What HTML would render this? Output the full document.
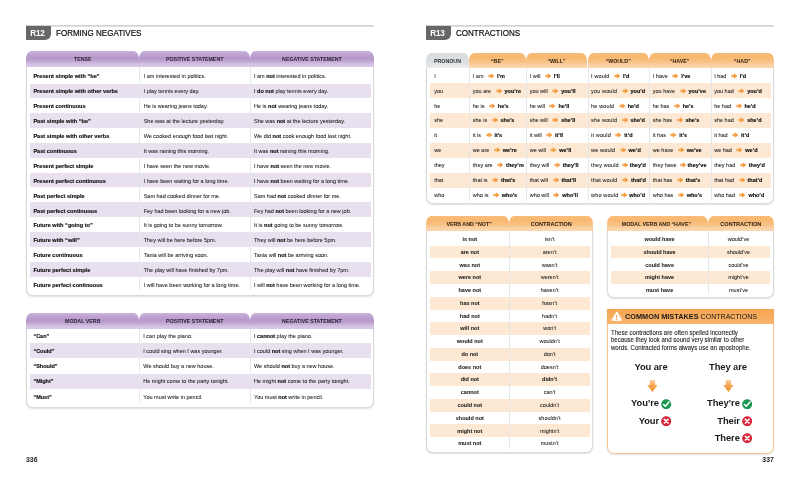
<!DOCTYPE html>
<html lang="en">
<head>
<meta charset="utf-8">
<title>Forming negatives / Contractions</title>
<style>
html,body{margin:0;padding:0;background:#fff;}
body{width:800px;height:478px;position:relative;overflow:hidden;font-family:"Liberation Sans",Arial,sans-serif;color:#222;}
.a{position:absolute;white-space:nowrap;}
.rule{position:absolute;height:1px;background:#bfbfbf;}
.badge{position:absolute;background:#676767;color:#fff;font-weight:bold;font-size:8.2px;border-radius:0 0 6px 0;text-align:center;letter-spacing:-0.2px;text-indent:-2.6px;}
.title{position:absolute;font-size:9.2px;color:#111;white-space:nowrap;transform:scaleX(0.872);transform-origin:0 50%;-webkit-text-stroke:0.22px #111;}
.box{position:absolute;border:1px solid #dadada;border-top:none;border-radius:0 0 7px 7px;background:#fff;box-shadow:0 0.5px 1.5px rgba(0,0,0,0.13);box-sizing:border-box;}
.hd{position:absolute;border-radius:5.5px 5.5px 0 0 / 8px 8px 0 0;text-align:center;font-weight:bold;font-size:5.3px;color:#2a2230;white-space:nowrap;}
.hp{background:linear-gradient(#cab5dc 0%,#c0a5d3 18%,#b697c9 45%,#c2a9d5 66%,#d3c1e1 82%,#d9c9e5 100%);}
.ho{background:linear-gradient(#f8bb78 0%,#f8b870 30%,#f9c388 60%,#fbd3a8 85%,#fbd8b2 100%);color:#2e2216;}
.hg{background:linear-gradient(#d9dcde 0%,#dcdfe1 60%,#eceeef 100%);color:#333;}
.sp{position:absolute;background:#e9e0ef;}
.so{position:absolute;background:#fde9d3;}
.vl{position:absolute;width:1px;background:#e5e8eb;}
.c{position:absolute;white-space:nowrap;font-size:5.5px;color:#222;-webkit-text-stroke:0.06px #222;}
.c b,.cb{color:#0c0c0c;font-weight:bold;-webkit-text-stroke:0.14px #0c0c0c;}
.cc{position:absolute;white-space:nowrap;font-size:5.5px;color:#222;text-align:center;-webkit-text-stroke:0.06px #222;}
.ar{display:inline-block;vertical-align:-0.8px;}
.pg{position:absolute;font-size:6.9px;font-weight:bold;color:#222;}
.big{position:absolute;font-size:9.9px;letter-spacing:-0.1px;font-weight:bold;transform:scaleX(0.95);color:#1a1a1a;white-space:nowrap;}
</style>
</head>
<body>
<svg class="a" style="left:26px;top:24px" width="347.9" height="4" viewBox="0 0 347.9 4"><line x1="0" x2="347.9" y1="1.90" y2="1.90" stroke="#b4b4b4" stroke-width="1"/></svg>
<div class="badge" style="left:26px;top:26px;width:25.4px;height:13.6px;line-height:15.4px">R12</div>
<div class="title" style="left:55.6px;top:27.3px;line-height:13.6px">FORMING NEGATIVES</div>
<div class="box" style="left:26.2px;top:65.3px;width:347.6px;height:230.3px"></div>
<div class="sp" style="left:30.0px;top:83.60px;width:340.8px;height:14.84px"></div>
<div class="sp" style="left:30.0px;top:113.28px;width:340.8px;height:14.84px"></div>
<div class="sp" style="left:30.0px;top:142.96px;width:340.8px;height:14.84px"></div>
<div class="sp" style="left:30.0px;top:172.64px;width:340.8px;height:14.84px"></div>
<div class="sp" style="left:30.0px;top:202.32px;width:340.8px;height:14.84px"></div>
<div class="sp" style="left:30.0px;top:232.00px;width:340.8px;height:14.84px"></div>
<div class="sp" style="left:30.0px;top:261.68px;width:340.8px;height:14.84px"></div>
<div class="vl" style="left:139.0px;top:67.3px;height:223.2px"></div>
<div class="vl" style="left:249.8px;top:67.3px;height:223.2px"></div>
<div class="c" style="left:33.4px;top:71.45px;line-height:10px;"><b style="font-size:5.6px">Present simple with “be”</b></div>
<div class="c" style="left:143.7px;top:71.45px;line-height:10px;">I am interested in politics.</div>
<div class="c" style="left:254.0px;top:71.45px;line-height:10px;">I am <b>not</b> interested in politics.</div>
<div class="c" style="left:33.4px;top:86.35px;line-height:10px;"><b style="font-size:5.6px">Present simple with other verbs</b></div>
<div class="c" style="left:143.7px;top:86.35px;line-height:10px;">I play tennis every day.</div>
<div class="c" style="left:254.0px;top:86.35px;line-height:10px;">I <b>do not</b> play tennis every day.</div>
<div class="c" style="left:33.4px;top:101.25px;line-height:10px;"><b style="font-size:5.6px">Present continuous</b></div>
<div class="c" style="left:143.7px;top:101.25px;line-height:10px;">He is wearing jeans today.</div>
<div class="c" style="left:254.0px;top:101.25px;line-height:10px;">He is <b>not</b> wearing jeans today.</div>
<div class="c" style="left:33.4px;top:116.15px;line-height:10px;"><b style="font-size:5.6px">Past simple with “be”</b></div>
<div class="c" style="left:143.7px;top:116.15px;line-height:10px;">She was at the lecture yesterday.</div>
<div class="c" style="left:254.0px;top:116.15px;line-height:10px;">She was <b>not</b> at the lecture yesterday.</div>
<div class="c" style="left:33.4px;top:131.05px;line-height:10px;"><b style="font-size:5.6px">Past simple with other verbs</b></div>
<div class="c" style="left:143.7px;top:131.05px;line-height:10px;">We cooked enough food last night.</div>
<div class="c" style="left:254.0px;top:131.05px;line-height:10px;">We did <b>not</b> cook enough food last night.</div>
<div class="c" style="left:33.4px;top:145.95px;line-height:10px;"><b style="font-size:5.6px">Past continuous</b></div>
<div class="c" style="left:143.7px;top:145.95px;line-height:10px;">It was raining this morning.</div>
<div class="c" style="left:254.0px;top:145.95px;line-height:10px;">It was <b>not</b> raining this morning.</div>
<div class="c" style="left:33.4px;top:160.85px;line-height:10px;"><b style="font-size:5.6px">Present perfect simple</b></div>
<div class="c" style="left:143.7px;top:160.85px;line-height:10px;">I have seen the new movie.</div>
<div class="c" style="left:254.0px;top:160.85px;line-height:10px;">I have <b>not</b> seen the new movie.</div>
<div class="c" style="left:33.4px;top:175.75px;line-height:10px;"><b style="font-size:5.6px">Present perfect continuous</b></div>
<div class="c" style="left:143.7px;top:175.75px;line-height:10px;">I have been waiting for a long time.</div>
<div class="c" style="left:254.0px;top:175.75px;line-height:10px;">I have <b>not</b> been waiting for a long time.</div>
<div class="c" style="left:33.4px;top:190.65px;line-height:10px;"><b style="font-size:5.6px">Past perfect simple</b></div>
<div class="c" style="left:143.7px;top:190.65px;line-height:10px;">Sam had cooked dinner for me.</div>
<div class="c" style="left:254.0px;top:190.65px;line-height:10px;">Sam had <b>not</b> cooked dinner for me.</div>
<div class="c" style="left:33.4px;top:205.55px;line-height:10px;"><b style="font-size:5.6px">Past perfect continuous</b></div>
<div class="c" style="left:143.7px;top:205.55px;line-height:10px;">Fey had been looking for a new job.</div>
<div class="c" style="left:254.0px;top:205.55px;line-height:10px;">Fey had <b>not</b> been looking for a new job.</div>
<div class="c" style="left:33.4px;top:220.45px;line-height:10px;"><b style="font-size:5.6px">Future with “going to”</b></div>
<div class="c" style="left:143.7px;top:220.45px;line-height:10px;">It is going to be sunny tomorrow.</div>
<div class="c" style="left:254.0px;top:220.45px;line-height:10px;">It is <b>not</b> going to be sunny tomorrow.</div>
<div class="c" style="left:33.4px;top:235.35px;line-height:10px;"><b style="font-size:5.6px">Future with “will”</b></div>
<div class="c" style="left:143.7px;top:235.35px;line-height:10px;">They will be here before 5pm.</div>
<div class="c" style="left:254.0px;top:235.35px;line-height:10px;">They will <b>not</b> be here before 5pm.</div>
<div class="c" style="left:33.4px;top:250.25px;line-height:10px;"><b style="font-size:5.6px">Future continuous</b></div>
<div class="c" style="left:143.7px;top:250.25px;line-height:10px;">Tania will be arriving soon.</div>
<div class="c" style="left:254.0px;top:250.25px;line-height:10px;">Tania will <b>not</b> be arriving soon.</div>
<div class="c" style="left:33.4px;top:265.15px;line-height:10px;"><b style="font-size:5.6px">Future perfect simple</b></div>
<div class="c" style="left:143.7px;top:265.15px;line-height:10px;">The play will have finished by 7pm.</div>
<div class="c" style="left:254.0px;top:265.15px;line-height:10px;">The play will <b>not</b> have finished by 7pm.</div>
<div class="c" style="left:33.4px;top:280.05px;line-height:10px;"><b style="font-size:5.6px">Future perfect continuous</b></div>
<div class="c" style="left:143.7px;top:280.05px;line-height:10px;">I will have been working for a long time.</div>
<div class="c" style="left:254.0px;top:280.05px;line-height:10px;">I will <b>not</b> have been working for a long time.</div>
<div class="hd hp" style="left:26.2px;top:51.3px;width:113.1px;height:16.0px;line-height:16.6px;">TENSE</div>
<div class="hd hp" style="left:139.3px;top:51.3px;width:110.8px;height:16.0px;line-height:16.6px;">POSITIVE STATEMENT</div>
<div class="hd hp" style="left:250.1px;top:51.3px;width:123.7px;height:16.0px;line-height:16.6px;">NEGATIVE STATEMENT</div>
<div class="box" style="left:26.2px;top:326.6px;width:347.6px;height:81.0px"></div>
<div class="sp" style="left:30.0px;top:343.25px;width:340.8px;height:15.15px"></div>
<div class="sp" style="left:30.0px;top:373.55px;width:340.8px;height:15.15px"></div>
<div class="vl" style="left:139.0px;top:328.6px;height:74.4px"></div>
<div class="vl" style="left:249.8px;top:328.6px;height:74.4px"></div>
<div class="c" style="left:33.4px;top:330.50px;line-height:10px;"><b>“Can”</b></div>
<div class="c" style="left:143.3px;top:330.50px;line-height:10px;">I can play the piano.</div>
<div class="c" style="left:254.0px;top:330.50px;line-height:10px;">I <b>cannot</b> play the piano.</div>
<div class="c" style="left:33.4px;top:345.78px;line-height:10px;"><b>“Could”</b></div>
<div class="c" style="left:143.3px;top:345.78px;line-height:10px;">I could sing when I was younger.</div>
<div class="c" style="left:254.0px;top:345.78px;line-height:10px;">I could <b>not</b> sing when I was younger.</div>
<div class="c" style="left:33.4px;top:361.06px;line-height:10px;"><b>“Should”</b></div>
<div class="c" style="left:143.3px;top:361.06px;line-height:10px;">We should buy a new house.</div>
<div class="c" style="left:254.0px;top:361.06px;line-height:10px;">We should <b>not</b> buy a new house.</div>
<div class="c" style="left:33.4px;top:376.34px;line-height:10px;"><b>“Might”</b></div>
<div class="c" style="left:143.3px;top:376.34px;line-height:10px;">He might come to the party tonight.</div>
<div class="c" style="left:254.0px;top:376.34px;line-height:10px;">He might <b>not</b> come to the party tonight.</div>
<div class="c" style="left:33.4px;top:391.62px;line-height:10px;"><b>“Must”</b></div>
<div class="c" style="left:143.3px;top:391.62px;line-height:10px;">You must write in pencil.</div>
<div class="c" style="left:254.0px;top:391.62px;line-height:10px;">You must <b>not</b> write in pencil.</div>
<div class="hd hp" style="left:26.2px;top:313.0px;width:113.1px;height:15.6px;line-height:16.2px;">MODAL VERB</div>
<div class="hd hp" style="left:139.3px;top:313.0px;width:110.8px;height:15.6px;line-height:16.2px;">POSITIVE STATEMENT</div>
<div class="hd hp" style="left:250.1px;top:313.0px;width:123.7px;height:15.6px;line-height:16.2px;">NEGATIVE STATEMENT</div>
<div class="pg" style="left:26px;top:454.5px;line-height:10px">336</div>
<svg class="a" style="left:426px;top:24px" width="347.9" height="4" viewBox="0 0 347.9 4"><line x1="0" x2="347.9" y1="1.90" y2="1.90" stroke="#b4b4b4" stroke-width="1"/></svg>
<div class="badge" style="left:426px;top:26px;width:25.4px;height:13.6px;line-height:15.4px">R13</div>
<div class="title" style="left:455.6px;top:27.3px;line-height:13.6px">CONTRACTIONS</div>
<div class="box" style="left:426.4px;top:66.0px;width:347.5px;height:137.8px"></div>
<div class="so" style="left:430.2px;top:83.12px;width:340.5px;height:14.92px"></div>
<div class="so" style="left:430.2px;top:112.96px;width:340.5px;height:14.92px"></div>
<div class="so" style="left:430.2px;top:142.80px;width:340.5px;height:14.92px"></div>
<div class="so" style="left:430.2px;top:172.64px;width:340.5px;height:14.92px"></div>
<div class="vl" style="left:469.1px;top:68.0px;height:132.5px"></div>
<div class="vl" style="left:525.7px;top:68.0px;height:132.5px"></div>
<div class="vl" style="left:587.6px;top:68.0px;height:132.5px"></div>
<div class="vl" style="left:648.9px;top:68.0px;height:132.5px"></div>
<div class="vl" style="left:710.7px;top:68.0px;height:132.5px"></div>
<div class="c" style="left:434.2px;top:71.00px;line-height:10px;">I</div>
<div class="c" style="left:472.8px;top:71.00px;line-height:10px;">I am<span style="display:inline-block;width:4.5px"></span><svg class="ar" width="6.4" height="5.9" viewBox="0 0 60 54"><defs><linearGradient id="ag" x1="0" x2="1" y1="0" y2="0"><stop offset="0" stop-color="#f9b56d"/><stop offset="1" stop-color="#f08a24"/></linearGradient></defs><path d="M2 15 L27 15 L27 1 L59 27 L27 53 L27 39 L2 39 Z" fill="url(#ag)"/></svg><span style="display:inline-block;width:2.5px"></span><b>I’m</b></div>
<div class="c" style="left:529.7px;top:71.00px;line-height:10px;">I will<span style="display:inline-block;width:4.5px"></span><svg class="ar" width="6.4" height="5.9" viewBox="0 0 60 54"><path d="M2 15 L27 15 L27 1 L59 27 L27 53 L27 39 L2 39 Z" fill="url(#ag)"/></svg><span style="display:inline-block;width:2.5px"></span><b>I’ll</b></div>
<div class="c" style="left:591.1px;top:71.00px;line-height:10px;"><span style="letter-spacing:0.14px">I would</span><span style="display:inline-block;width:4.5px"></span><svg class="ar" width="6.4" height="5.9" viewBox="0 0 60 54"><path d="M2 15 L27 15 L27 1 L59 27 L27 53 L27 39 L2 39 Z" fill="url(#ag)"/></svg><span style="display:inline-block;width:2.5px"></span><b>I’d</b></div>
<div class="c" style="left:652.8px;top:71.00px;line-height:10px;">I have<span style="display:inline-block;width:4.5px"></span><svg class="ar" width="6.4" height="5.9" viewBox="0 0 60 54"><path d="M2 15 L27 15 L27 1 L59 27 L27 53 L27 39 L2 39 Z" fill="url(#ag)"/></svg><span style="display:inline-block;width:2.5px"></span><b>I’ve</b></div>
<div class="c" style="left:714.2px;top:71.00px;line-height:10px;">I had<span style="display:inline-block;width:4.5px"></span><svg class="ar" width="6.4" height="5.9" viewBox="0 0 60 54"><path d="M2 15 L27 15 L27 1 L59 27 L27 53 L27 39 L2 39 Z" fill="url(#ag)"/></svg><span style="display:inline-block;width:2.5px"></span><b>I’d</b></div>
<div class="c" style="left:434.2px;top:86.00px;line-height:10px;">you</div>
<div class="c" style="left:472.8px;top:86.00px;line-height:10px;">you are<span style="display:inline-block;width:4.5px"></span><svg class="ar" width="6.4" height="5.9" viewBox="0 0 60 54"><path d="M2 15 L27 15 L27 1 L59 27 L27 53 L27 39 L2 39 Z" fill="url(#ag)"/></svg><span style="display:inline-block;width:2.5px"></span><b>you’re</b></div>
<div class="c" style="left:529.7px;top:86.00px;line-height:10px;">you will<span style="display:inline-block;width:4.5px"></span><svg class="ar" width="6.4" height="5.9" viewBox="0 0 60 54"><path d="M2 15 L27 15 L27 1 L59 27 L27 53 L27 39 L2 39 Z" fill="url(#ag)"/></svg><span style="display:inline-block;width:2.5px"></span><b>you’ll</b></div>
<div class="c" style="left:591.1px;top:86.00px;line-height:10px;"><span style="letter-spacing:0.14px">you would</span><span style="display:inline-block;width:4.5px"></span><svg class="ar" width="6.4" height="5.9" viewBox="0 0 60 54"><path d="M2 15 L27 15 L27 1 L59 27 L27 53 L27 39 L2 39 Z" fill="url(#ag)"/></svg><span style="display:inline-block;width:2.5px"></span><b>you’d</b></div>
<div class="c" style="left:652.8px;top:86.00px;line-height:10px;">you have<span style="display:inline-block;width:4.5px"></span><svg class="ar" width="6.4" height="5.9" viewBox="0 0 60 54"><path d="M2 15 L27 15 L27 1 L59 27 L27 53 L27 39 L2 39 Z" fill="url(#ag)"/></svg><span style="display:inline-block;width:2.5px"></span><b>you’ve</b></div>
<div class="c" style="left:714.2px;top:86.00px;line-height:10px;">you had<span style="display:inline-block;width:4.5px"></span><svg class="ar" width="6.4" height="5.9" viewBox="0 0 60 54"><path d="M2 15 L27 15 L27 1 L59 27 L27 53 L27 39 L2 39 Z" fill="url(#ag)"/></svg><span style="display:inline-block;width:2.5px"></span><b>you’d</b></div>
<div class="c" style="left:434.2px;top:101.00px;line-height:10px;">he</div>
<div class="c" style="left:472.8px;top:101.00px;line-height:10px;">he is<span style="display:inline-block;width:4.5px"></span><svg class="ar" width="6.4" height="5.9" viewBox="0 0 60 54"><path d="M2 15 L27 15 L27 1 L59 27 L27 53 L27 39 L2 39 Z" fill="url(#ag)"/></svg><span style="display:inline-block;width:2.5px"></span><b>he’s</b></div>
<div class="c" style="left:529.7px;top:101.00px;line-height:10px;">he will<span style="display:inline-block;width:4.5px"></span><svg class="ar" width="6.4" height="5.9" viewBox="0 0 60 54"><path d="M2 15 L27 15 L27 1 L59 27 L27 53 L27 39 L2 39 Z" fill="url(#ag)"/></svg><span style="display:inline-block;width:2.5px"></span><b>he’ll</b></div>
<div class="c" style="left:591.1px;top:101.00px;line-height:10px;"><span style="letter-spacing:0.14px">he would</span><span style="display:inline-block;width:4.5px"></span><svg class="ar" width="6.4" height="5.9" viewBox="0 0 60 54"><path d="M2 15 L27 15 L27 1 L59 27 L27 53 L27 39 L2 39 Z" fill="url(#ag)"/></svg><span style="display:inline-block;width:2.5px"></span><b>he’d</b></div>
<div class="c" style="left:652.8px;top:101.00px;line-height:10px;">he has<span style="display:inline-block;width:4.5px"></span><svg class="ar" width="6.4" height="5.9" viewBox="0 0 60 54"><path d="M2 15 L27 15 L27 1 L59 27 L27 53 L27 39 L2 39 Z" fill="url(#ag)"/></svg><span style="display:inline-block;width:2.5px"></span><b>he’s</b></div>
<div class="c" style="left:714.2px;top:101.00px;line-height:10px;">he had<span style="display:inline-block;width:4.5px"></span><svg class="ar" width="6.4" height="5.9" viewBox="0 0 60 54"><path d="M2 15 L27 15 L27 1 L59 27 L27 53 L27 39 L2 39 Z" fill="url(#ag)"/></svg><span style="display:inline-block;width:2.5px"></span><b>he’d</b></div>
<div class="c" style="left:434.2px;top:115.00px;line-height:10px;">she</div>
<div class="c" style="left:472.8px;top:115.00px;line-height:10px;">she is<span style="display:inline-block;width:4.5px"></span><svg class="ar" width="6.4" height="5.9" viewBox="0 0 60 54"><path d="M2 15 L27 15 L27 1 L59 27 L27 53 L27 39 L2 39 Z" fill="url(#ag)"/></svg><span style="display:inline-block;width:2.5px"></span><b>she’s</b></div>
<div class="c" style="left:529.7px;top:115.00px;line-height:10px;">she will<span style="display:inline-block;width:4.5px"></span><svg class="ar" width="6.4" height="5.9" viewBox="0 0 60 54"><path d="M2 15 L27 15 L27 1 L59 27 L27 53 L27 39 L2 39 Z" fill="url(#ag)"/></svg><span style="display:inline-block;width:2.5px"></span><b>she’ll</b></div>
<div class="c" style="left:591.1px;top:115.00px;line-height:10px;"><span style="letter-spacing:0.14px">she would</span><span style="display:inline-block;width:4.5px"></span><svg class="ar" width="6.4" height="5.9" viewBox="0 0 60 54"><path d="M2 15 L27 15 L27 1 L59 27 L27 53 L27 39 L2 39 Z" fill="url(#ag)"/></svg><span style="display:inline-block;width:2.5px"></span><b>she’d</b></div>
<div class="c" style="left:652.8px;top:115.00px;line-height:10px;">she has<span style="display:inline-block;width:4.5px"></span><svg class="ar" width="6.4" height="5.9" viewBox="0 0 60 54"><path d="M2 15 L27 15 L27 1 L59 27 L27 53 L27 39 L2 39 Z" fill="url(#ag)"/></svg><span style="display:inline-block;width:2.5px"></span><b>she’s</b></div>
<div class="c" style="left:714.2px;top:115.00px;line-height:10px;">she had<span style="display:inline-block;width:4.5px"></span><svg class="ar" width="6.4" height="5.9" viewBox="0 0 60 54"><path d="M2 15 L27 15 L27 1 L59 27 L27 53 L27 39 L2 39 Z" fill="url(#ag)"/></svg><span style="display:inline-block;width:2.5px"></span><b>she’d</b></div>
<div class="c" style="left:434.2px;top:130.00px;line-height:10px;">it</div>
<div class="c" style="left:472.8px;top:130.00px;line-height:10px;">it is<span style="display:inline-block;width:4.5px"></span><svg class="ar" width="6.4" height="5.9" viewBox="0 0 60 54"><path d="M2 15 L27 15 L27 1 L59 27 L27 53 L27 39 L2 39 Z" fill="url(#ag)"/></svg><span style="display:inline-block;width:2.5px"></span><b>it’s</b></div>
<div class="c" style="left:529.7px;top:130.00px;line-height:10px;">it will<span style="display:inline-block;width:4.5px"></span><svg class="ar" width="6.4" height="5.9" viewBox="0 0 60 54"><path d="M2 15 L27 15 L27 1 L59 27 L27 53 L27 39 L2 39 Z" fill="url(#ag)"/></svg><span style="display:inline-block;width:2.5px"></span><b>it’ll</b></div>
<div class="c" style="left:591.1px;top:130.00px;line-height:10px;"><span style="letter-spacing:0.14px">it would</span><span style="display:inline-block;width:4.5px"></span><svg class="ar" width="6.4" height="5.9" viewBox="0 0 60 54"><path d="M2 15 L27 15 L27 1 L59 27 L27 53 L27 39 L2 39 Z" fill="url(#ag)"/></svg><span style="display:inline-block;width:2.5px"></span><b>it’d</b></div>
<div class="c" style="left:652.8px;top:130.00px;line-height:10px;">it has<span style="display:inline-block;width:4.5px"></span><svg class="ar" width="6.4" height="5.9" viewBox="0 0 60 54"><path d="M2 15 L27 15 L27 1 L59 27 L27 53 L27 39 L2 39 Z" fill="url(#ag)"/></svg><span style="display:inline-block;width:2.5px"></span><b>it’s</b></div>
<div class="c" style="left:714.2px;top:130.00px;line-height:10px;">it had<span style="display:inline-block;width:4.5px"></span><svg class="ar" width="6.4" height="5.9" viewBox="0 0 60 54"><path d="M2 15 L27 15 L27 1 L59 27 L27 53 L27 39 L2 39 Z" fill="url(#ag)"/></svg><span style="display:inline-block;width:2.5px"></span><b>it’d</b></div>
<div class="c" style="left:434.2px;top:145.00px;line-height:10px;">we</div>
<div class="c" style="left:472.8px;top:145.00px;line-height:10px;">we are<span style="display:inline-block;width:4.5px"></span><svg class="ar" width="6.4" height="5.9" viewBox="0 0 60 54"><path d="M2 15 L27 15 L27 1 L59 27 L27 53 L27 39 L2 39 Z" fill="url(#ag)"/></svg><span style="display:inline-block;width:2.5px"></span><b>we’re</b></div>
<div class="c" style="left:529.7px;top:145.00px;line-height:10px;">we will<span style="display:inline-block;width:4.5px"></span><svg class="ar" width="6.4" height="5.9" viewBox="0 0 60 54"><path d="M2 15 L27 15 L27 1 L59 27 L27 53 L27 39 L2 39 Z" fill="url(#ag)"/></svg><span style="display:inline-block;width:2.5px"></span><b>we’ll</b></div>
<div class="c" style="left:591.1px;top:145.00px;line-height:10px;"><span style="letter-spacing:0.14px">we would</span><span style="display:inline-block;width:4.5px"></span><svg class="ar" width="6.4" height="5.9" viewBox="0 0 60 54"><path d="M2 15 L27 15 L27 1 L59 27 L27 53 L27 39 L2 39 Z" fill="url(#ag)"/></svg><span style="display:inline-block;width:2.5px"></span><b>we’d</b></div>
<div class="c" style="left:652.8px;top:145.00px;line-height:10px;">we have<span style="display:inline-block;width:4.5px"></span><svg class="ar" width="6.4" height="5.9" viewBox="0 0 60 54"><path d="M2 15 L27 15 L27 1 L59 27 L27 53 L27 39 L2 39 Z" fill="url(#ag)"/></svg><span style="display:inline-block;width:2.5px"></span><b>we’ve</b></div>
<div class="c" style="left:714.2px;top:145.00px;line-height:10px;">we had<span style="display:inline-block;width:4.5px"></span><svg class="ar" width="6.4" height="5.9" viewBox="0 0 60 54"><path d="M2 15 L27 15 L27 1 L59 27 L27 53 L27 39 L2 39 Z" fill="url(#ag)"/></svg><span style="display:inline-block;width:2.5px"></span><b>we’d</b></div>
<div class="c" style="left:434.2px;top:160.00px;line-height:10px;">they</div>
<div class="c" style="left:472.8px;top:160.00px;line-height:10px;">they are<span style="display:inline-block;width:4.5px"></span><svg class="ar" width="6.4" height="5.9" viewBox="0 0 60 54"><path d="M2 15 L27 15 L27 1 L59 27 L27 53 L27 39 L2 39 Z" fill="url(#ag)"/></svg><span style="display:inline-block;width:2.5px"></span><b>they’re</b></div>
<div class="c" style="left:529.7px;top:160.00px;line-height:10px;">they will<span style="display:inline-block;width:4.5px"></span><svg class="ar" width="6.4" height="5.9" viewBox="0 0 60 54"><path d="M2 15 L27 15 L27 1 L59 27 L27 53 L27 39 L2 39 Z" fill="url(#ag)"/></svg><span style="display:inline-block;width:2.5px"></span><b>they’ll</b></div>
<div class="c" style="left:591.1px;top:160.00px;line-height:10px;"><span style="letter-spacing:0.14px">they would</span><span style="display:inline-block;width:3.2px"></span><svg class="ar" width="6.4" height="5.9" viewBox="0 0 60 54"><path d="M2 15 L27 15 L27 1 L59 27 L27 53 L27 39 L2 39 Z" fill="url(#ag)"/></svg><span style="display:inline-block;width:1.3px"></span><b>they’d</b></div>
<div class="c" style="left:652.8px;top:160.00px;line-height:10px;">they have<span style="display:inline-block;width:3.2px"></span><svg class="ar" width="6.4" height="5.9" viewBox="0 0 60 54"><path d="M2 15 L27 15 L27 1 L59 27 L27 53 L27 39 L2 39 Z" fill="url(#ag)"/></svg><span style="display:inline-block;width:1.3px"></span><b>they’ve</b></div>
<div class="c" style="left:714.2px;top:160.00px;line-height:10px;">they had<span style="display:inline-block;width:4.5px"></span><svg class="ar" width="6.4" height="5.9" viewBox="0 0 60 54"><path d="M2 15 L27 15 L27 1 L59 27 L27 53 L27 39 L2 39 Z" fill="url(#ag)"/></svg><span style="display:inline-block;width:2.5px"></span><b>they’d</b></div>
<div class="c" style="left:434.2px;top:175.00px;line-height:10px;">that</div>
<div class="c" style="left:472.8px;top:175.00px;line-height:10px;">that is<span style="display:inline-block;width:4.5px"></span><svg class="ar" width="6.4" height="5.9" viewBox="0 0 60 54"><path d="M2 15 L27 15 L27 1 L59 27 L27 53 L27 39 L2 39 Z" fill="url(#ag)"/></svg><span style="display:inline-block;width:2.5px"></span><b>that’s</b></div>
<div class="c" style="left:529.7px;top:175.00px;line-height:10px;">that will<span style="display:inline-block;width:4.5px"></span><svg class="ar" width="6.4" height="5.9" viewBox="0 0 60 54"><path d="M2 15 L27 15 L27 1 L59 27 L27 53 L27 39 L2 39 Z" fill="url(#ag)"/></svg><span style="display:inline-block;width:2.5px"></span><b>that’ll</b></div>
<div class="c" style="left:591.1px;top:175.00px;line-height:10px;"><span style="letter-spacing:0.14px">that would</span><span style="display:inline-block;width:4.5px"></span><svg class="ar" width="6.4" height="5.9" viewBox="0 0 60 54"><path d="M2 15 L27 15 L27 1 L59 27 L27 53 L27 39 L2 39 Z" fill="url(#ag)"/></svg><span style="display:inline-block;width:2.5px"></span><b>that’d</b></div>
<div class="c" style="left:652.8px;top:175.00px;line-height:10px;">that has<span style="display:inline-block;width:4.5px"></span><svg class="ar" width="6.4" height="5.9" viewBox="0 0 60 54"><path d="M2 15 L27 15 L27 1 L59 27 L27 53 L27 39 L2 39 Z" fill="url(#ag)"/></svg><span style="display:inline-block;width:2.5px"></span><b>that’s</b></div>
<div class="c" style="left:714.2px;top:175.00px;line-height:10px;">that had<span style="display:inline-block;width:4.5px"></span><svg class="ar" width="6.4" height="5.9" viewBox="0 0 60 54"><path d="M2 15 L27 15 L27 1 L59 27 L27 53 L27 39 L2 39 Z" fill="url(#ag)"/></svg><span style="display:inline-block;width:2.5px"></span><b>that’d</b></div>
<div class="c" style="left:434.2px;top:190.00px;line-height:10px;">who</div>
<div class="c" style="left:472.8px;top:190.00px;line-height:10px;">who is<span style="display:inline-block;width:4.5px"></span><svg class="ar" width="6.4" height="5.9" viewBox="0 0 60 54"><path d="M2 15 L27 15 L27 1 L59 27 L27 53 L27 39 L2 39 Z" fill="url(#ag)"/></svg><span style="display:inline-block;width:2.5px"></span><b>who’s</b></div>
<div class="c" style="left:529.7px;top:190.00px;line-height:10px;">who will<span style="display:inline-block;width:4.5px"></span><svg class="ar" width="6.4" height="5.9" viewBox="0 0 60 54"><path d="M2 15 L27 15 L27 1 L59 27 L27 53 L27 39 L2 39 Z" fill="url(#ag)"/></svg><span style="display:inline-block;width:2.5px"></span><b>who’ll</b></div>
<div class="c" style="left:591.1px;top:190.00px;line-height:10px;"><span style="letter-spacing:0.14px">who would</span><span style="display:inline-block;width:2.9px"></span><svg class="ar" width="6.4" height="5.9" viewBox="0 0 60 54"><path d="M2 15 L27 15 L27 1 L59 27 L27 53 L27 39 L2 39 Z" fill="url(#ag)"/></svg><span style="display:inline-block;width:1.6px"></span><b>who’d</b></div>
<div class="c" style="left:652.8px;top:190.00px;line-height:10px;">who has<span style="display:inline-block;width:4.5px"></span><svg class="ar" width="6.4" height="5.9" viewBox="0 0 60 54"><path d="M2 15 L27 15 L27 1 L59 27 L27 53 L27 39 L2 39 Z" fill="url(#ag)"/></svg><span style="display:inline-block;width:2.5px"></span><b>who’s</b></div>
<div class="c" style="left:714.2px;top:190.00px;line-height:10px;">who had<span style="display:inline-block;width:4.5px"></span><svg class="ar" width="6.4" height="5.9" viewBox="0 0 60 54"><path d="M2 15 L27 15 L27 1 L59 27 L27 53 L27 39 L2 39 Z" fill="url(#ag)"/></svg><span style="display:inline-block;width:2.5px"></span><b>who’d</b></div>
<div class="hd hg" style="left:426.4px;top:52.9px;width:42.2px;height:15.1px;line-height:16.7px;text-indent:0.0px;">PRONOUN</div>
<div class="hd ho" style="left:469.0px;top:52.9px;width:56.6px;height:15.3px;line-height:16.9px;">“BE”</div>
<div class="hd ho" style="left:525.6px;top:52.9px;width:61.9px;height:15.3px;line-height:16.9px;">“WILL”</div>
<div class="hd ho" style="left:587.5px;top:52.9px;width:61.3px;height:15.3px;line-height:16.9px;">“WOULD”</div>
<div class="hd ho" style="left:648.8px;top:52.9px;width:61.8px;height:15.3px;line-height:16.9px;">“HAVE”</div>
<div class="hd ho" style="left:710.6px;top:52.9px;width:63.3px;height:15.3px;line-height:16.9px;">“HAD”</div>
<div class="box" style="left:426.4px;top:228.9px;width:167.0px;height:224.3px"></div>
<div class="so" style="left:430.2px;top:245.67px;width:159.4px;height:12.77px"></div>
<div class="so" style="left:430.2px;top:271.21px;width:159.4px;height:12.77px"></div>
<div class="so" style="left:430.2px;top:296.75px;width:159.4px;height:12.77px"></div>
<div class="so" style="left:430.2px;top:322.29px;width:159.4px;height:12.77px"></div>
<div class="so" style="left:430.2px;top:347.83px;width:159.4px;height:12.77px"></div>
<div class="so" style="left:430.2px;top:373.37px;width:159.4px;height:12.77px"></div>
<div class="so" style="left:430.2px;top:398.91px;width:159.4px;height:12.77px"></div>
<div class="so" style="left:430.2px;top:424.45px;width:159.4px;height:12.77px"></div>
<div class="vl" style="left:508.9px;top:230.9px;height:218.6px"></div>
<div class="cc cb" style="left:429.8px;width:80px;top:233.98px;line-height:10px">is not</div>
<div class="cc" style="left:509.6px;width:80px;top:233.98px;line-height:10px">isn’t</div>
<div class="cc cb" style="left:429.8px;width:80px;top:246.75px;line-height:10px">are not</div>
<div class="cc" style="left:509.6px;width:80px;top:246.75px;line-height:10px">aren’t</div>
<div class="cc cb" style="left:429.8px;width:80px;top:259.52px;line-height:10px">was not</div>
<div class="cc" style="left:509.6px;width:80px;top:259.52px;line-height:10px">wasn’t</div>
<div class="cc cb" style="left:429.8px;width:80px;top:272.30px;line-height:10px">were not</div>
<div class="cc" style="left:509.6px;width:80px;top:272.30px;line-height:10px">weren’t</div>
<div class="cc cb" style="left:429.8px;width:80px;top:285.06px;line-height:10px">have not</div>
<div class="cc" style="left:509.6px;width:80px;top:285.06px;line-height:10px">haven’t</div>
<div class="cc cb" style="left:429.8px;width:80px;top:297.83px;line-height:10px">has not</div>
<div class="cc" style="left:509.6px;width:80px;top:297.83px;line-height:10px">hasn’t</div>
<div class="cc cb" style="left:429.8px;width:80px;top:310.60px;line-height:10px">had not</div>
<div class="cc" style="left:509.6px;width:80px;top:310.60px;line-height:10px">hadn’t</div>
<div class="cc cb" style="left:429.8px;width:80px;top:323.38px;line-height:10px">will not</div>
<div class="cc" style="left:509.6px;width:80px;top:323.38px;line-height:10px">won’t</div>
<div class="cc cb" style="left:429.8px;width:80px;top:336.14px;line-height:10px">would not</div>
<div class="cc" style="left:509.6px;width:80px;top:336.14px;line-height:10px">wouldn’t</div>
<div class="cc cb" style="left:429.8px;width:80px;top:348.92px;line-height:10px">do not</div>
<div class="cc" style="left:509.6px;width:80px;top:348.92px;line-height:10px">don’t</div>
<div class="cc cb" style="left:429.8px;width:80px;top:361.69px;line-height:10px">does not</div>
<div class="cc" style="left:509.6px;width:80px;top:361.69px;line-height:10px">doesn’t</div>
<div class="cc cb" style="left:429.8px;width:80px;top:374.45px;line-height:10px">did not</div>
<div class="cc cb" style="left:509.6px;width:80px;top:374.45px;line-height:10px">didn’t</div>
<div class="cc cb" style="left:429.8px;width:80px;top:387.22px;line-height:10px">cannot</div>
<div class="cc" style="left:509.6px;width:80px;top:387.22px;line-height:10px">can’t</div>
<div class="cc cb" style="left:429.8px;width:80px;top:399.99px;line-height:10px">could not</div>
<div class="cc" style="left:509.6px;width:80px;top:399.99px;line-height:10px">couldn’t</div>
<div class="cc cb" style="left:429.8px;width:80px;top:412.76px;line-height:10px">should not</div>
<div class="cc" style="left:509.6px;width:80px;top:412.76px;line-height:10px">shouldn’t</div>
<div class="cc cb" style="left:429.8px;width:80px;top:425.54px;line-height:10px">might not</div>
<div class="cc" style="left:509.6px;width:80px;top:425.54px;line-height:10px">mightn’t</div>
<div class="cc cb" style="left:429.8px;width:80px;top:438.31px;line-height:10px">must not</div>
<div class="cc" style="left:509.6px;width:80px;top:438.31px;line-height:10px">mustn’t</div>
<div class="hd ho" style="left:426.4px;top:215.5px;width:82.8px;height:15.4px;line-height:16.0px;text-indent:2.6px;">VERB AND “NOT”</div>
<div class="hd ho" style="left:509.2px;top:215.5px;width:84.2px;height:15.4px;line-height:16.0px;font-size:5.55px;">CONTRACTION</div>
<div class="box" style="left:607.0px;top:228.9px;width:166.9px;height:68.8px"></div>
<div class="so" style="left:611.2px;top:245.67px;width:158.5px;height:12.77px"></div>
<div class="so" style="left:611.2px;top:271.21px;width:158.5px;height:12.77px"></div>
<div class="vl" style="left:707.5px;top:230.9px;height:63.6px"></div>
<div class="cc cb" style="left:619.6px;width:80px;top:233.98px;line-height:10px">would have</div>
<div class="cc" style="left:698.5px;width:80px;top:233.98px;line-height:10px">would’ve</div>
<div class="cc cb" style="left:619.6px;width:80px;top:246.75px;line-height:10px">should have</div>
<div class="cc" style="left:698.5px;width:80px;top:246.75px;line-height:10px">should’ve</div>
<div class="cc cb" style="left:619.6px;width:80px;top:259.52px;line-height:10px">could have</div>
<div class="cc" style="left:698.5px;width:80px;top:259.52px;line-height:10px">could’ve</div>
<div class="cc cb" style="left:619.6px;width:80px;top:272.30px;line-height:10px">might have</div>
<div class="cc" style="left:698.5px;width:80px;top:272.30px;line-height:10px">might’ve</div>
<div class="cc cb" style="left:619.6px;width:80px;top:285.06px;line-height:10px">must have</div>
<div class="cc" style="left:698.5px;width:80px;top:285.06px;line-height:10px">must’ve</div>
<div class="hd ho" style="left:607.0px;top:215.5px;width:100.8px;height:15.4px;line-height:16.0px;text-indent:-2.0px;">MODAL VERB AND “HAVE”</div>
<div class="hd ho" style="left:707.8px;top:215.5px;width:66.1px;height:15.4px;line-height:16.0px;font-size:5.55px;">CONTRACTION</div>
<div style="position:absolute;left:607.2px;top:309px;width:167px;height:144.6px;box-sizing:border-box;border:1px solid #f9c690;border-radius:0 0 7px 7px;background:#fff;box-shadow:0 0.5px 1.5px rgba(0,0,0,0.12)"></div>
<div style="position:absolute;left:607.2px;top:309px;width:167px;height:15.3px;background:linear-gradient(#f6a550,#f8b46c)"></div>
<svg class="a" style="left:610.9px;top:311.4px" width="11.6" height="10.2" viewBox="0 0 26 24"><path d="M13 2.2 L24 21.5 L2 21.5 Z" fill="#fff" stroke="#fff" stroke-width="2.4" stroke-linejoin="round"/><text x="13" y="20.3" text-anchor="middle" font-family="Liberation Sans, Arial, sans-serif" font-weight="bold" font-size="17" fill="#f39a3d">!</text></svg>
<div class="a" style="left:625.4px;top:309px;line-height:16px;font-size:8.1px;color:#1a1a1a;transform:scaleX(0.905);transform-origin:0 50%"><b>COMMON MISTAKES</b> <span style="font-size:7.8px">CONTRACTIONS</span></div>
<div class="a" style="left:611.2px;top:327.60px;line-height:10px;font-size:6.55px;color:#1e1e1e;transform:scaleX(0.925);transform-origin:0 50%;-webkit-text-stroke:0.1px #1e1e1e">These contractions are often spelled incorrectly</div>
<div class="a" style="left:611.2px;top:335.45px;line-height:10px;font-size:6.55px;color:#1e1e1e;transform:scaleX(0.925);transform-origin:0 50%;-webkit-text-stroke:0.1px #1e1e1e">because they look and sound very similar to other</div>
<div class="a" style="left:611.2px;top:343.30px;line-height:10px;font-size:6.55px;color:#1e1e1e;transform:scaleX(0.925);transform-origin:0 50%;-webkit-text-stroke:0.1px #1e1e1e">words. Contracted forms always use an apostrophe.</div>
<div class="big" style="left:621.4px;width:60.0px;top:360.3px;line-height:14px;text-align:center;transform-origin:50% 50%">You are</div>
<div class="big" style="left:697.9px;width:60.0px;top:360.3px;line-height:14px;text-align:center;transform-origin:50% 50%">They are</div>
<div class="big" style="left:600.0px;width:59.0px;top:396.4px;line-height:14px;text-align:right;transform-origin:100% 50%">You’re</div>
<div class="big" style="left:600.0px;width:59.0px;top:413.5px;line-height:14px;text-align:right;transform-origin:100% 50%">Your</div>
<div class="big" style="left:680.0px;width:59.8px;top:396.4px;line-height:14px;text-align:right;transform-origin:100% 50%">They’re</div>
<div class="big" style="left:680.0px;width:59.8px;top:413.5px;line-height:14px;text-align:right;transform-origin:100% 50%">Their</div>
<div class="big" style="left:680.0px;width:59.8px;top:431.3px;line-height:14px;text-align:right;transform-origin:100% 50%">There</div>
<svg class="a" style="left:646.7px;top:380.3px" width="10.8" height="12" viewBox="0 0 108 120"><defs><linearGradient id="dg1" x1="0" x2="0" y1="0" y2="1"><stop offset="0" stop-color="#fbd2a3"/><stop offset="0.45" stop-color="#f6a654"/><stop offset="1" stop-color="#f08c28"/></linearGradient></defs><path d="M27 0 L81 0 L81 50 L106 50 L54 119 L2 50 L27 50 Z" fill="url(#dg1)"/></svg>
<svg class="a" style="left:722.8px;top:380.3px" width="10.8" height="12" viewBox="0 0 108 120"><defs><linearGradient id="dg2" x1="0" x2="0" y1="0" y2="1"><stop offset="0" stop-color="#fbd2a3"/><stop offset="0.45" stop-color="#f6a654"/><stop offset="1" stop-color="#f08c28"/></linearGradient></defs><path d="M27 0 L81 0 L81 50 L106 50 L54 119 L2 50 L27 50 Z" fill="url(#dg2)"/></svg>
<svg class="a" style="left:661.4px;top:398.7px" width="10.4" height="10.4" viewBox="0 0 104 104"><circle cx="52" cy="52" r="50" fill="#1a9852"/><path d="M25 55 L43 73 L80 31" fill="none" stroke="#fff" stroke-width="15.5" stroke-linecap="round" stroke-linejoin="round"/></svg>
<svg class="a" style="left:661.4px;top:416.0px" width="10.4" height="10.4" viewBox="0 0 104 104"><circle cx="52" cy="52" r="50" fill="#d8263b"/><path d="M34 34 L70 70 M70 34 L34 70" fill="none" stroke="#fff" stroke-width="16.5" stroke-linecap="round"/></svg>
<svg class="a" style="left:742.1px;top:398.7px" width="10.4" height="10.4" viewBox="0 0 104 104"><circle cx="52" cy="52" r="50" fill="#1a9852"/><path d="M25 55 L43 73 L80 31" fill="none" stroke="#fff" stroke-width="15.5" stroke-linecap="round" stroke-linejoin="round"/></svg>
<svg class="a" style="left:742.1px;top:416.0px" width="10.4" height="10.4" viewBox="0 0 104 104"><circle cx="52" cy="52" r="50" fill="#d8263b"/><path d="M34 34 L70 70 M70 34 L34 70" fill="none" stroke="#fff" stroke-width="16.5" stroke-linecap="round"/></svg>
<svg class="a" style="left:742.1px;top:433.4px" width="10.4" height="10.4" viewBox="0 0 104 104"><circle cx="52" cy="52" r="50" fill="#d8263b"/><path d="M34 34 L70 70 M70 34 L34 70" fill="none" stroke="#fff" stroke-width="16.5" stroke-linecap="round"/></svg>
<div class="pg" style="left:740px;width:33.8px;text-align:right;top:455.1px;line-height:10px">337</div>
</body>
</html>
